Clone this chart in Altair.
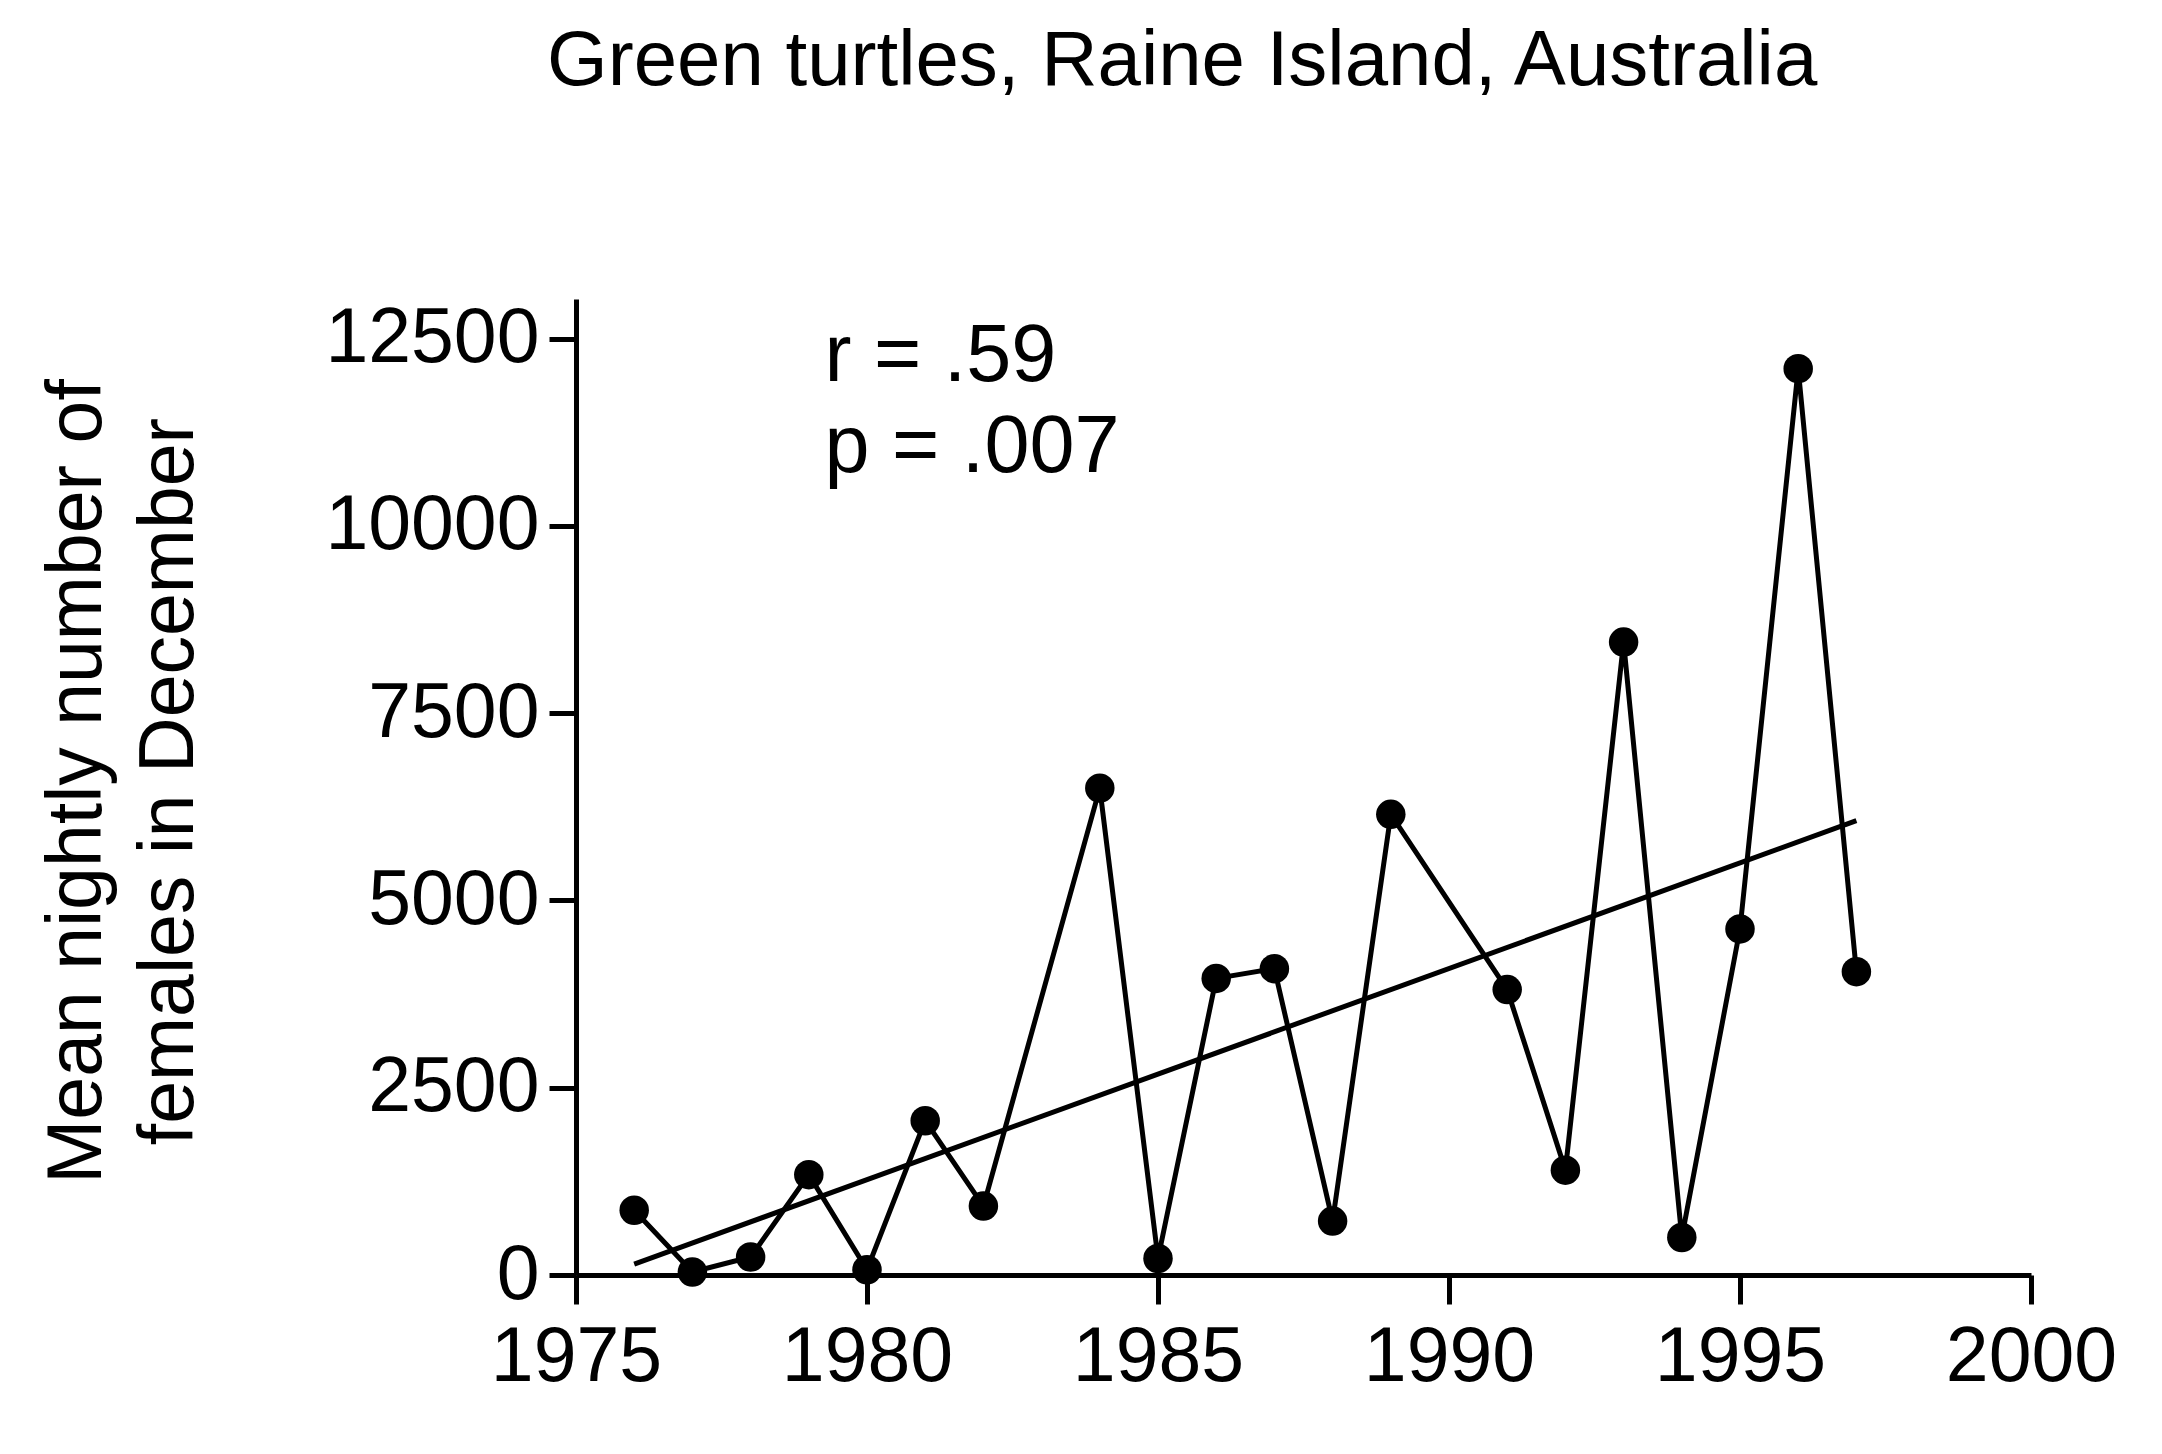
import altair as alt
import pandas as pd

# Data
years = [1976, 1977, 1978, 1979, 1980, 1981, 1982, 1984, 1985, 1986,
         1987, 1988, 1989, 1991, 1992, 1993, 1994, 1995, 1996, 1997]
females = [865, 40, 240, 1340, 70, 2060, 920, 6500, 220, 3960,
           4090, 720, 6150, 3810, 1400, 8450, 500, 4620, 12100, 4050]
x_ticks = [1975, 1980, 1985, 1990, 1995, 2000]
y_ticks = [0, 2500, 5000, 7500, 10000, 12500]
stats_text = ["r = .59", "p = .007"]
stats_x = [1979.27, 1979.27]
stats_y = [11930, 10715]

FONT = "Liberation Sans"

df = pd.DataFrame({"year": years, "females": females})
ann = pd.DataFrame({"year": stats_x, "females": stats_y, "label": stats_text})

xenc = alt.X(
    "year:Q",
    scale=alt.Scale(domain=[1975, 2000], nice=False, zero=False),
    axis=alt.Axis(values=x_ticks, format="d", title=None, tickSize=29,
                  labelPadding=15, labelFlush=False, labelOverlap=False,
                  labelLimit=0),
)
yenc = alt.Y(
    "females:Q",
    scale=alt.Scale(domain=[0, 13030], nice=False),
    axis=alt.Axis(values=y_ticks, format="d",
                  title=["Mean nightly number of", "females in December"],
                  tickSize=27, labelPadding=10, labelFlush=False, labelOverlap=False,
                  labelLimit=0,
                  titleX=-476, titleY=482, titleAngle=270, titleAlign="center",
                  titleBaseline="alphabetic", titleLineHeight=92,
                  titleFontSize=77, titleFontWeight="normal", titleFont=FONT,
                  titleColor="black"),
)

base = alt.Chart(df)
line = base.mark_line(color="black", strokeWidth=5).encode(x=xenc, y=yenc)
points = base.mark_circle(color="black", size=870, opacity=1).encode(x=xenc, y=yenc)
trend = base.transform_regression("year", "females").mark_line(
    color="black", strokeWidth=5).encode(x=xenc, y=yenc)
text = alt.Chart(ann).mark_text(
    align="left", baseline="alphabetic", fontSize=81, font=FONT, color="black"
).encode(x=xenc, y=yenc, text="label:N")

chart = alt.layer(trend, line, points, text).properties(
    width=1455,
    height=976,
    background="white",
    padding={"left": 568, "top": 291, "right": 110, "bottom": 120},
    autosize=alt.AutoSizeParams(type="none"),
    title=alt.TitleParams(
        text="Green turtles, Raine Island, Australia",
        anchor="start", frame="group", dx=-29, offset=136,
        baseline="alphabetic", fontSize=78, font=FONT,
        fontWeight="normal", color="black",
    ),
).configure_view(stroke=None).configure_axis(
    grid=False,
    domainColor="black", domainWidth=5,
    tickColor="black", tickWidth=5,
    labelFont=FONT, labelFontSize=77, labelColor="black",
)

chart.save("out.html", embed_options={"renderer": "svg", "actions": False})
